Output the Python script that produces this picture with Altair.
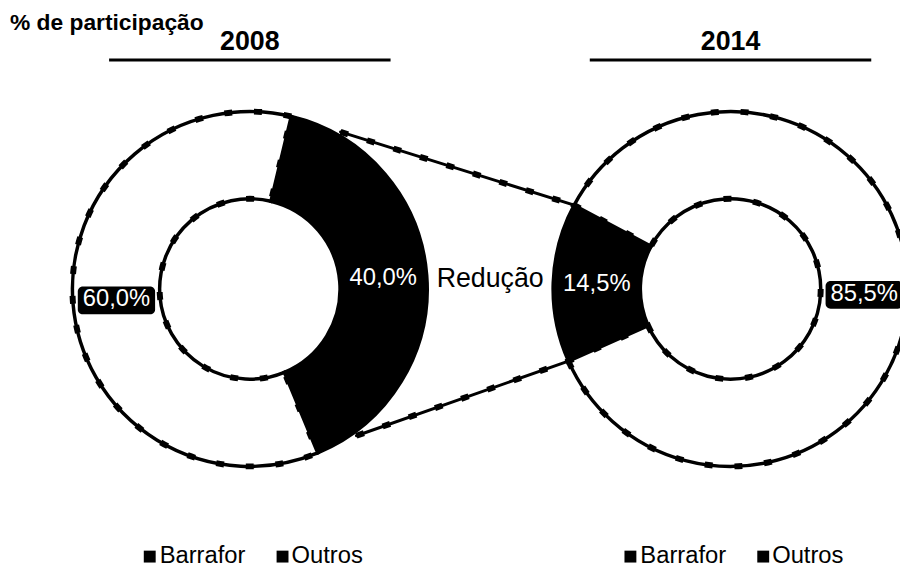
import math
import altair as alt
import pandas as pd

# ---------------- data ----------------
years = ["2008", "2014"]
series = ["Barrafor", "Outros"]
share_2008 = [40.0, 60.0]
share_2014 = [14.5, 85.5]
labels_2008 = ["40,0%", "60,0%"]
labels_2014 = ["14,5%", "85,5%"]
unit_title = "% de participação"
change_note = "Redução"

# ---------------- layout ----------------
W, H = 900, 560
CX = {"2008": 244, "2014": 729}
CY = 281
R_OUT, R_IN, R_LAB = 179, 91, 135
START_DEG = {"2008": 13.5, "2014": 246.0}
FONT = "Liberation Sans"
LEG_SQ_OFF = [-101, 33]
LEG_TX_OFF = [-91, 42]
LEG_Y = 550
CONN_FROM_DEG = [30, 144]
CONN_FROM_R = 183
BOX_W, BOX_H = 78, 28

shares = {"2008": share_2008, "2014": share_2014}
labels = {"2008": labels_2008, "2014": labels_2014}

rows = []
for yr in years:
    for i, (s, v, l) in enumerate(zip(series, shares[yr], labels[yr])):
        rows.append({"year": yr, "series": s, "value": v, "label": l, "order": i})
df = pd.DataFrame(rows)

xs = alt.Scale(domain=[0, W], range=[0, W], zero=False, nice=False)
ys = alt.Scale(domain=[0, H], range=[0, H], zero=False, nice=False)


def polar(cx, cy, r, deg):
    a = math.radians(deg)
    return cx + r * math.sin(a), cy - r * math.cos(a)


# connectors: from the 2008 ring to the edges of the 2014 Barrafor slice
b14_start = START_DEG["2014"]
b14_end = b14_start + share_2014[0] * 3.6
p1 = polar(CX["2008"], CY, CONN_FROM_R, CONN_FROM_DEG[0])
q1 = polar(CX["2014"], CY, R_OUT, b14_end)
p2 = polar(CX["2008"], CY, CONN_FROM_R, CONN_FROM_DEG[1])
q2 = polar(CX["2014"], CY, R_OUT, b14_start)
conn = pd.DataFrame({"x": [p1[0], p2[0]], "y": [p1[1], p2[1]],
                     "x2": [q1[0], q2[0]], "y2": [q1[1], q2[1]]})

conn_enc = dict(x=alt.X("x:Q", scale=xs, axis=None), y=alt.Y("y:Q", scale=ys, axis=None),
                x2="x2:Q", y2="y2:Q")
conn_solid = alt.Chart(conn).mark_rule(color="black", strokeWidth=3, strokeCap="round").encode(**conn_enc)
conn_bumps = alt.Chart(conn).mark_rule(color="black", strokeWidth=6, strokeDash=[8, 20]).encode(**conn_enc)

# boxes behind the "Outros" labels (centred on the slice's mid angle)
box_rows = []
for yr in years:
    v0 = shares[yr][0]
    mid = START_DEG[yr] + (v0 + shares[yr][1] / 2) * 3.6
    bx, by = polar(CX[yr], CY, R_LAB, mid)
    box_rows.append({"x": bx - BOX_W / 2, "x2": bx + BOX_W / 2,
                     "y": by - BOX_H / 2 + 1, "y2": by + BOX_H / 2 + 1})
boxes = alt.Chart(pd.DataFrame(box_rows)).mark_rect(color="black", cornerRadius=5).encode(
    x=alt.X("x:Q", scale=xs, axis=None), x2="x2:Q",
    y=alt.Y("y:Q", scale=ys, axis=None), y2="y2:Q")

# titles
head = pd.DataFrame({"year": years, "x": [CX[y] for y in years],
                     "xa": [CX[y] - 142 for y in years], "xb": [CX[y] + 142 for y in years]})
title_df = pd.DataFrame({"t": [unit_title], "x": [2]})
title = alt.Chart(title_df).mark_text(align="left", baseline="alphabetic", fontSize=23,
                                      fontWeight="bold", font=FONT, color="black").encode(
    x=alt.X("x:Q", scale=xs, axis=None), y=alt.value(20), text="t:N")
year_txt = alt.Chart(head).mark_text(align="center", baseline="alphabetic", fontSize=27,
                                     fontWeight="bold", font=FONT, color="black").encode(
    x=alt.X("x:Q", scale=xs, axis=None), y=alt.value(40), text="year:N")
underline = alt.Chart(head).mark_rule(color="black", strokeWidth=3).encode(
    x=alt.X("xa:Q", scale=xs, axis=None), x2="xb:Q", y=alt.value(50))


def donut(yr):
    d = df[df["year"] == yr]
    s = math.radians(START_DEG[yr])
    th = alt.Theta("value:Q", stack=True,
                   scale=alt.Scale(domain=[0, 100], range=[s, s + 2 * math.pi]))
    base = alt.Chart(d).encode(theta=th, order=alt.Order("order:Q"),
                               x=alt.value(CX[yr]), y=alt.value(CY))
    ring = base.mark_arc(radius=R_OUT, radius2=R_IN, stroke="black", strokeWidth=3.5).encode(
        color=alt.Color("series:N", scale=alt.Scale(domain=series, range=["#000000", "#ffffff"]),
                        legend=None))
    bumps = base.mark_arc(radius=R_OUT, radius2=R_IN, fillOpacity=0, stroke="black",
                          strokeWidth=6, strokeDash=[8, 22]).encode(
        strokeOpacity=alt.condition(alt.datum.series == "Outros", alt.value(1), alt.value(0)))
    lab = base.mark_text(radius=R_LAB, fontSize=24, font=FONT, color="white").encode(text="label:N")
    return ring, bumps, lab


r08, b08, l08 = donut("2008")
r14, b14, l14 = donut("2014")
d08 = alt.layer(r08, b08)
d14 = alt.layer(r14, b14)

note_df = pd.DataFrame({"t": [change_note], "x": [(CX["2008"] + CX["2014"]) / 2]})
note = alt.Chart(note_df).mark_text(align="center", baseline="middle", fontSize=27, font=FONT,
                                    color="black").encode(
    x=alt.X("x:Q", scale=xs, axis=None), y=alt.value(CY - 10), text="t:N")

leg_rows = []
for yr in years:
    for i, s in enumerate(series):
        leg_rows.append({"year": yr, "series": s, "sx": CX[yr] + LEG_SQ_OFF[i],
                         "tx": CX[yr] + LEG_TX_OFF[i]})
leg = pd.DataFrame(leg_rows)
leg_sq = alt.Chart(leg).mark_square(size=144, color="black", opacity=1).encode(
    x=alt.X("sx:Q", scale=xs, axis=None), y=alt.value(LEG_Y + 1))
leg_tx = alt.Chart(leg).mark_text(align="left", baseline="middle", fontSize=24, font=FONT,
                                  color="black").encode(
    x=alt.X("tx:Q", scale=xs, axis=None), y=alt.value(LEG_Y), text="series:N")

chart = alt.layer(
    conn_solid, conn_bumps, title, year_txt, underline,
    d08, d14, boxes, alt.layer(l08), alt.layer(l14), note, leg_sq, leg_tx
).resolve_scale(theta="independent").properties(
    width=W, height=H, autosize=alt.AutoSizeParams(type="none"), padding=0, background="white"
).configure_view(stroke=None)

chart.save("out.html", embed_options={"renderer": "svg", "actions": False})
